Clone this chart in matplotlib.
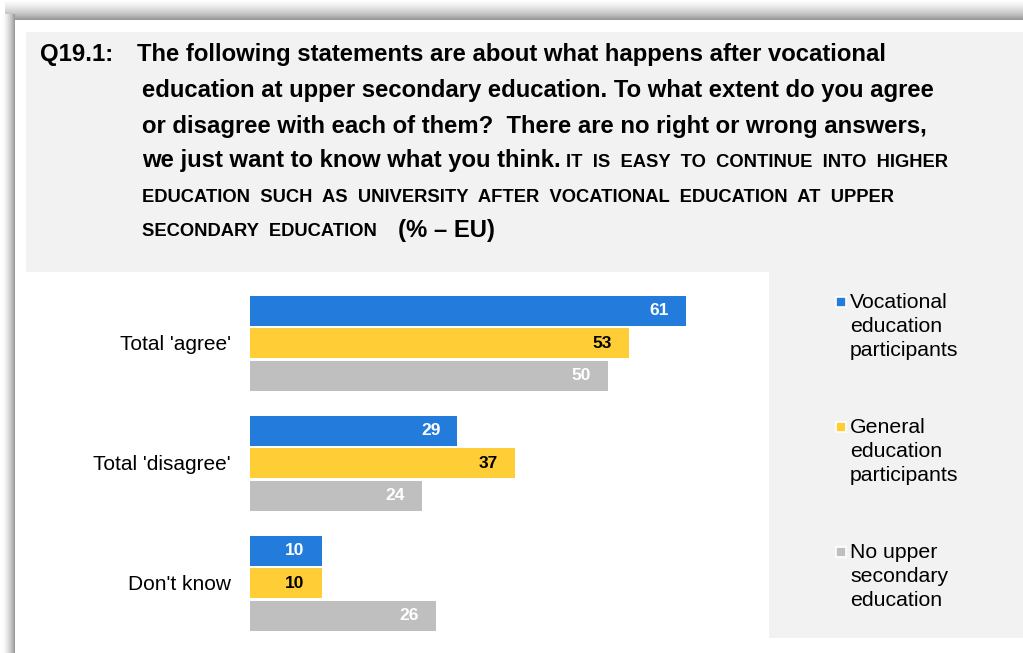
import numpy as np
from matplotlib import pyplot as plt
from matplotlib.patches import Rectangle

plt.rcParams['font.family'] = ['Liberation Sans', 'DejaVu Sans']

categories = ["Total 'agree'", "Total 'disagree'", "Don't know"]
series = ['Vocational\neducation\nparticipants',
          'General\neducation\nparticipants',
          'No upper\nsecondary\neducation']
vocational = [61, 29, 10]
general = [53, 37, 10]
no_upper = [50, 24, 26]

colors = ['#237cdc', '#ffce37', '#bfbfbf']
label_colors = ['white', 'black', 'white']

W, H = 1023, 653
fig = plt.figure(figsize=(W / 100, H / 100), dpi=100)
fig.patch.set_facecolor('white')

# background in pixel coordinates
bg = fig.add_axes([0, 0, 1, 1])
bg.axis('off')

# shadow frame (top + left gradient)
grad = np.linspace(0, 1, 50)
top = np.tile(grad[:, None], (1, 10))
bg.imshow(top, cmap='Greys', vmin=0, vmax=2.0, extent=(5, W, 20, 0), aspect='auto', zorder=0)
left = np.tile(grad[None, :], (10, 1))
bg.imshow(left, cmap='Greys', vmin=0, vmax=2.0, extent=(3, 15, H, 14), aspect='auto', zorder=0)
bg.add_patch(Rectangle((15, 20), W, H, facecolor='white', edgecolor='none', zorder=1))
bg.set_xlim(0, W)
bg.set_ylim(H, 0)

# title panel and legend panel
bg.add_patch(Rectangle((26, 32), W, 240, facecolor='#f2f2f2', edgecolor='none', zorder=2))
bg.add_patch(Rectangle((769, 272), W, 366, facecolor='#f2f2f2', edgecolor='none', zorder=2))

big = dict(fontsize=17.2, fontweight='bold', color='black', va='baseline', zorder=3)
small = dict(fontsize=13.2, fontweight='bold', color='black', va='baseline', zorder=3)

bg.text(40, 61.5, 'Q19.1:', **big)
bg.text(137, 61.5, 'The following statements are about what happens after vocational', **big)
bg.text(142, 97, 'education at upper secondary education. To what extent do you agree', **big)
bg.text(142, 132.5, 'or disagree with each of them?  There are no right or wrong answers,', **big)
bg.text(142, 167, 'we just want to know what you think.', **big)
bg.text(566, 167, 'IT  IS  EASY  TO  CONTINUE  INTO  HIGHER', **small)
bg.text(142, 201.5, 'EDUCATION  SUCH  AS  UNIVERSITY  AFTER  VOCATIONAL  EDUCATION  AT  UPPER', **small)
bg.text(142, 236.5, 'SECONDARY  EDUCATION', **small)
bg.text(398, 236.5, '(% \u2013 EU)', **big)

# bars
scale = 7.15  # px per percent
y_top, y_bot = 280, 640
ax = fig.add_axes([250 / W, 1 - y_bot / H, 70 * scale / W, (y_bot - y_top) / H])
ax.patch.set_alpha(0)
ax.set_xlim(0, 70)
ax.set_ylim(2.475, -0.525)

y = np.arange(len(categories))
pitch = 32.5 / 120
height = 30 / 120
for i, vals in enumerate([vocational, general, no_upper]):
    pos = y + (i - 1) * pitch
    ax.barh(pos, vals, height=height, color=colors[i], edgecolor='none')
    for p, v in zip(pos, vals):
        ax.annotate(str(v), (v, p), xytext=(-17, 0), textcoords='offset pixels',
                    ha='right', va='center', fontsize=12.5, fontweight='bold',
                    color=label_colors[i])

ax.set_yticks(y)
ax.set_yticklabels(categories, fontsize=15)
ax.tick_params(axis='y', length=0, pad=14)
ax.set_xticks([])
for s in ax.spines.values():
    s.set_visible(False)

# legend
leg_y = [302, 427, 552]
for i in range(3):
    bg.add_patch(Rectangle((835.5, leg_y[i] - 5), 10, 10, facecolor=colors[i],
                           edgecolor='white', linewidth=1.2, zorder=3))
    bg.text(850, leg_y[i] - 9, series[i], fontsize=15.3, va='top', ha='left',
            linespacing=1.33, zorder=3)

fig.savefig('out.png', dpi=100)
